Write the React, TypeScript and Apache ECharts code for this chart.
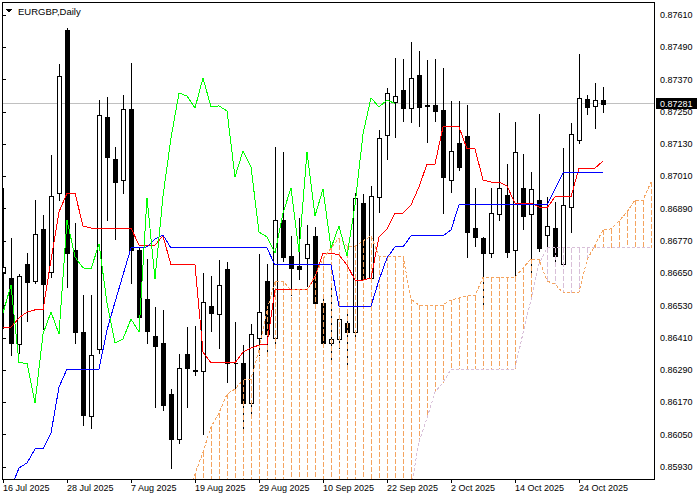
import React, { useEffect, useRef } from "react";
import * as echarts from "echarts";

const symbolTitle = "EURGBP,Daily";
const tickBars = [0, 8, 16, 24, 32, 40, 48, 56, 64, 72];
const tickLabels = ["16 Jul 2025", "28 Jul 2025", "7 Aug 2025", "19 Aug 2025", "29 Aug 2025", "10 Sep 2025", "22 Sep 2025", "2 Oct 2025", "14 Oct 2025", "24 Oct 2025"];
const priceTicks = [0.8593, 0.8605, 0.8617, 0.8629, 0.8641, 0.8653, 0.8665, 0.8677, 0.8689, 0.8701, 0.8713, 0.8725, 0.8737, 0.8749, 0.8761];
const lastPrice = 0.87281;

const opens = [0.86655, 0.86632, 0.86387, 0.86685, 0.86621, 0.86815, 0.86655, 0.86948, 0.87554, 0.86737,
  0.86432, 0.86120, 0.86369, 0.87231, 0.87075, 0.86997, 0.87261, 0.86737, 0.86554, 0.86417,
  0.86391, 0.86201, 0.86034, 0.86350, 0.86291, 0.86287, 0.86528, 0.86499, 0.86666, 0.86318,
  0.86317, 0.86168, 0.86409, 0.86621, 0.86409, 0.86848, 0.86714, 0.86677, 0.86707, 0.86789,
  0.86540, 0.86391, 0.86406, 0.86465, 0.86432, 0.86911, 0.86632, 0.86934, 0.87164, 0.87287,
  0.87331, 0.87264, 0.87387, 0.87274, 0.87275, 0.87257, 0.86997, 0.87134, 0.87160, 0.86818,
  0.86781, 0.86725, 0.86870, 0.86941, 0.86737, 0.86967, 0.86870, 0.86922, 0.86792, 0.86818,
  0.86685, 0.86896, 0.87145, 0.87298, 0.87272, 0.87294];
const highs = [0.86967, 0.86781, 0.86647, 0.86725, 0.86922, 0.86867, 0.87090, 0.87428, 0.87562, 0.86837,
  0.86569, 0.86569, 0.87294, 0.87305, 0.87119, 0.87313, 0.87432, 0.86744, 0.86703, 0.86525,
  0.86514, 0.86220, 0.86350, 0.86450, 0.86454, 0.86651, 0.86640, 0.86699, 0.86692, 0.86469,
  0.86383, 0.86462, 0.86722, 0.86685, 0.87119, 0.87101, 0.86789, 0.86855, 0.86829, 0.86822,
  0.86569, 0.86614, 0.86495, 0.86517, 0.86948, 0.86945, 0.86974, 0.87183, 0.87339, 0.87450,
  0.87446, 0.87510, 0.87476, 0.87443, 0.87446, 0.87413, 0.87290, 0.87290, 0.87275, 0.86967,
  0.86785, 0.86967, 0.87246, 0.87056, 0.87212, 0.87093, 0.87026, 0.87242, 0.86934, 0.86915,
  0.87116, 0.87209, 0.87465, 0.87313, 0.87357, 0.87342];
const lows = [0.86447, 0.86346, 0.86354, 0.86473, 0.86614, 0.86443, 0.86636, 0.86922, 0.86599, 0.86391,
  0.86086, 0.86075, 0.86354, 0.86848, 0.86777, 0.86948, 0.86614, 0.86476, 0.86391, 0.86153,
  0.86142, 0.85926, 0.86019, 0.86153, 0.86272, 0.86053, 0.86435, 0.86372, 0.86246, 0.86209,
  0.86068, 0.86123, 0.86346, 0.86357, 0.86383, 0.86696, 0.86569, 0.86629, 0.86603, 0.86521,
  0.86376, 0.86328, 0.86372, 0.86302, 0.86413, 0.86625, 0.86625, 0.86878, 0.87075, 0.87157,
  0.87216, 0.87212, 0.87197, 0.87138, 0.87216, 0.86874, 0.86952, 0.87034, 0.86711, 0.86751,
  0.86536, 0.86711, 0.86848, 0.86711, 0.86644, 0.86815, 0.86651, 0.86733, 0.86740, 0.86688,
  0.86681, 0.86803, 0.87134, 0.87242, 0.87190, 0.87249];
const closes = [0.86673, 0.86391, 0.86640, 0.86618, 0.86796, 0.86610, 0.86937, 0.87383, 0.86725, 0.86432,
  0.86123, 0.86346, 0.87238, 0.87082, 0.86989, 0.87261, 0.86737, 0.86488, 0.86435, 0.86380,
  0.86160, 0.86034, 0.86298, 0.86298, 0.86287, 0.86543, 0.86502, 0.86606, 0.86317, 0.86316,
  0.86168, 0.86424, 0.86506, 0.86424, 0.86848, 0.86711, 0.86670, 0.86666, 0.86759, 0.86540,
  0.86391, 0.86406, 0.86480, 0.86432, 0.86930, 0.86629, 0.86937, 0.87153, 0.87320, 0.87309,
  0.87264, 0.87376, 0.87268, 0.87272, 0.87253, 0.87008, 0.87105, 0.87045, 0.86803, 0.86785,
  0.86725, 0.86874, 0.86967, 0.86729, 0.87101, 0.86863, 0.86963, 0.86744, 0.86826, 0.86714,
  0.86904, 0.87168, 0.87302, 0.87268, 0.87294, 0.87281];

const tenkan = [0.86450, 0.86450, 0.86484, 0.86506, 0.86514, 0.86514, 0.86699, 0.86878, 0.86948, 0.86948,
  0.86826, 0.86818, 0.86818, 0.86818, 0.86818, 0.86818, 0.86818, 0.86755, 0.86755, 0.86755,
  0.86789, 0.86681, 0.86681, 0.86681, 0.86681, 0.86357, 0.86317, 0.86317, 0.86317, 0.86317,
  0.86357, 0.86372, 0.86383, 0.86387, 0.86588, 0.86588, 0.86588, 0.86588, 0.86588, 0.86636,
  0.86725, 0.86725, 0.86718, 0.86681, 0.86625, 0.86625, 0.86632, 0.86785, 0.86815, 0.86874,
  0.86874, 0.86904, 0.86971, 0.87056, 0.87056, 0.87194, 0.87194, 0.87194, 0.87112, 0.87112,
  0.86997, 0.86989, 0.86989, 0.86974, 0.86911, 0.86911, 0.86911, 0.86896, 0.86893, 0.86934,
  0.86934, 0.86934, 0.87041, 0.87041, 0.87041, 0.87067];
const kijun = [0.85770, 0.85852, 0.85926, 0.85945, 0.85997, 0.85997, 0.86056, 0.86227, 0.86294, 0.86294,
  0.86294, 0.86294, 0.86294, 0.86439, 0.86543, 0.86644, 0.86744, 0.86744, 0.86748, 0.86777,
  0.86792, 0.86744, 0.86744, 0.86744, 0.86744, 0.86744, 0.86744, 0.86744, 0.86744, 0.86744,
  0.86744, 0.86744, 0.86744, 0.86744, 0.86681, 0.86681, 0.86681, 0.86681, 0.86681, 0.86681,
  0.86681, 0.86681, 0.86528, 0.86528, 0.86528, 0.86528, 0.86528, 0.86625, 0.86707, 0.86748,
  0.86748, 0.86789, 0.86789, 0.86789, 0.86789, 0.86789, 0.86811, 0.86904, 0.86904, 0.86904,
  0.86904, 0.86904, 0.86904, 0.86904, 0.86904, 0.86904, 0.86904, 0.86904, 0.86904, 0.86963,
  0.87023, 0.87023, 0.87023, 0.87023, 0.87023, 0.87023];
const chikou = [0.86502, 0.86606, 0.86317, 0.86316, 0.86168, 0.86424, 0.86506, 0.86424, 0.86848, 0.86711,
  0.86670, 0.86666, 0.86759, 0.86540, 0.86391, 0.86406, 0.86480, 0.86432, 0.86930, 0.86629,
  0.86937, 0.87153, 0.87320, 0.87309, 0.87264, 0.87376, 0.87268, 0.87272, 0.87253, 0.87008,
  0.87105, 0.87045, 0.86803, 0.86785, 0.86725, 0.86874, 0.86967, 0.86729, 0.87101, 0.86863,
  0.86963, 0.86744, 0.86826, 0.86714, 0.86904, 0.87168, 0.87302, 0.87268, 0.87294, 0.87281];
const senkouA = [null, null, null, null, null, null, null, null, null, null,
  null, null, null, null, null, null, null, null, null, null,
  null, null, null, 0.85807, 0.85904, 0.85986, 0.86079, 0.86131, 0.86201, 0.86220,
  0.86253, 0.86257, 0.86365, 0.86514, 0.86621, 0.86621, 0.86588, 0.86588, 0.86588, 0.86640,
  0.86703, 0.86744, 0.86781, 0.86751, 0.86751, 0.86770, 0.86789, 0.86714, 0.86714, 0.86714,
  0.86714, 0.86554, 0.86532, 0.86532, 0.86532, 0.86532, 0.86551, 0.86558, 0.86566, 0.86566,
  0.86636, 0.86636, 0.86636, 0.86636, 0.86636, 0.86670, 0.86703, 0.86703, 0.86621, 0.86610,
  0.86577, 0.86577, 0.86580, 0.86699, 0.86755, 0.86811, 0.86815, 0.86844, 0.86878, 0.86922,
  0.86922, 0.86989];
const senkouB = [null, null, null, null, null, null, null, null, null, null,
  null, null, null, null, null, null, null, null, null, null,
  null, null, null, null, null, null, null, null, null, null,
  null, null, null, null, null, null, null, null, null, null,
  null, null, null, null, null, null, null, null, null, null,
  0.85696, 0.85852, 0.86023, 0.86112, 0.86209, 0.86242, 0.86294, 0.86294, 0.86294, 0.86294,
  0.86294, 0.86294, 0.86294, 0.86294, 0.86294, 0.86428, 0.86551, 0.86685, 0.86744, 0.86744,
  0.86744, 0.86744, 0.86744, 0.86744, 0.86744, 0.86744, 0.86744, 0.86744, 0.86744, 0.86744,
  0.86744, 0.86744];

const FONT = "'Liberation Sans', Arial, Helvetica, sans-serif";
const Y_MIN = 0.858854;
const Y_MAX = 0.876583;
const X_MAX = 81.375;
const BULL_CLOUD = "#F4A460";
const BEAR_CLOUD = "#D8BFD8";

export default function App() {
  const ref = useRef<HTMLDivElement>(null);
  useEffect(() => {
    if (!ref.current) return;
    const chart = echarts.init(ref.current, null, { renderer: "svg" });
    const candleData = opens.map((o, i) => [i, o, closes[i], lows[i], highs[i]]);
    const cloudData: number[][] = [];
    senkouA.forEach((a, i) => { if (a != null) cloudData.push([i, a]); });
    const lineData = (arr: (number | null)[]) => arr.map((v, i) => [i, v == null ? "-" : v]);

    const option: any = {
      animation: false,
      backgroundColor: "#fff",
      textStyle: { fontFamily: FONT },
      grid: { left: 3, right: 46, top: 2, bottom: 21, containLabel: false },
      xAxis: {
        type: "value", min: 0, max: X_MAX,
        axisLine: { show: false }, splitLine: { show: false },
        axisTick: { show: true, length: 4, lineStyle: { color: "#000" }, customValues: tickBars },
        axisLabel: {
          customValues: tickBars, align: "left", margin: 4, fontSize: 9, color: "#000", fontFamily: FONT,
          formatter: (v: number) => { const k = tickBars.indexOf(Math.round(v)); return k >= 0 ? tickLabels[k] : ""; },
        },
      },
      yAxis: [
        {
          type: "value", position: "right", min: Y_MIN, max: Y_MAX, scale: true,
          axisLine: { show: false }, splitLine: { show: false },
          axisTick: { show: true, length: 3, lineStyle: { color: "#000" }, customValues: priceTicks },
          axisLabel: { customValues: priceTicks, margin: 6, fontSize: 9, color: "#000", fontFamily: FONT, formatter: (v: number) => v.toFixed(5) },
        },
        {
          type: "value", position: "right", min: Y_MIN, max: Y_MAX, scale: true,
          axisLine: { show: false }, splitLine: { show: false },
          axisTick: { show: false, customValues: [lastPrice] },
          axisLabel: {
            customValues: [lastPrice], margin: 2, fontSize: 9, color: "#fff", fontFamily: FONT,
            backgroundColor: "#000", padding: [1, 4, 0, 4], lineHeight: 10,
            formatter: (v: number) => v.toFixed(5),
          },
        },
      ],
      graphic: [
        { type: "rect", z: 100, silent: true, shape: { x: 2.5, y: 2.5, width: 652, height: 477 }, style: { fill: "transparent", stroke: "#000", lineWidth: 1 } },
        { type: "polygon", z: 100, shape: { points: [[5, 9], [12, 9], [8.5, 12.5]] }, style: { fill: "#000" } },
        { type: "text", z: 100, x: 18, y: 11, style: { text: symbolTitle, fontSize: 9.5, fontFamily: FONT, fill: "#000", verticalAlign: "middle" } },
      ],
      series: [
        {
          type: "line", name: "last", z: 1, symbol: "none", silent: true,
          data: [[0, lastPrice], [X_MAX, lastPrice]],
          lineStyle: { color: "#C0C0C0", width: 1 },
        },
        {
          type: "custom", name: "candles", z: 2, clip: true, data: candleData,
          encode: { x: 0, y: [1, 2, 3, 4] },
          renderItem: (params: any, api: any) => {
            const i = api.value(0);
            const o = api.value(1), c = api.value(2), l = api.value(3), h = api.value(4);
            const p = api.coord([i, o]);
            const x = Math.round(p[0]) + 0.5;
            const yo = p[1];
            const yc = api.coord([i, c])[1];
            const yl = api.coord([i, l])[1];
            const yh = api.coord([i, h])[1];
            const top = Math.round(Math.min(yo, yc)) + 0.5;
            const bot = Math.round(Math.max(yo, yc)) + 0.5;
            const bull = c >= o;
            return {
              type: "group",
              children: [
                { type: "line", shape: { x1: x, y1: Math.round(yh), x2: x, y2: Math.round(yl) + 1 }, style: { stroke: "#000", lineWidth: 1 } },
                { type: "rect", shape: { x: x - 2, y: top, width: 4, height: bot - top }, style: { fill: bull ? "#fff" : "#000", stroke: "#000", lineWidth: 1 } },
              ],
            };
          },
        },
        {
          type: "custom", name: "cloud", z: 3, clip: true, data: cloudData,
          encode: { x: 0, y: 1 },
          renderItem: (params: any, api: any) => {
            const i = api.value(0);
            const a = api.value(1);
            const b = senkouB[i];
            const pa = api.coord([i, a]);
            const x = Math.round(pa[0]);
            const yb = b == null ? params.coordSys.y + params.coordSys.height : api.coord([i, b])[1];
            const color = b == null || a >= b ? BULL_CLOUD : BEAR_CLOUD;
            const y0 = Math.round(Math.min(pa[1], yb));
            const y1 = Math.round(Math.max(pa[1], yb));
            const children: any[] = [];
            for (let y = y0; y < y1; y += 7) {
              children.push({ type: "rect", shape: { x, y, width: 1, height: Math.min(5, y1 - y) }, style: { fill: color } });
            }
            return { type: "group", children };
          },
        },
        { type: "line", name: "Tenkan", z: 4, data: lineData(tenkan), symbol: "none", lineStyle: { color: "#FF0000", width: 1 } },
        { type: "line", name: "Kijun", z: 4, data: lineData(kijun), symbol: "none", lineStyle: { color: "#0000FF", width: 1 } },
        { type: "line", name: "SpanA", z: 4, data: lineData(senkouA), symbol: "none", lineStyle: { color: BULL_CLOUD, width: 1, type: [3, 2] } },
        { type: "line", name: "SpanB", z: 4, data: lineData(senkouB), symbol: "none", lineStyle: { color: BEAR_CLOUD, width: 1, type: [3, 2] } },
        { type: "line", name: "Chikou", z: 4, data: lineData(chikou), symbol: "none", lineStyle: { color: "#00FF00", width: 1 } },
      ],
    };
    chart.setOption(option);
    const svg = ref.current.querySelector("svg");
    if (svg) svg.setAttribute("shape-rendering", "crispEdges");
    return () => chart.dispose();
  }, []);
  return <div ref={ref} style={{ position: "fixed", left: 0, top: 0, width: 700, height: 500, background: "#fff" }} />;
}
